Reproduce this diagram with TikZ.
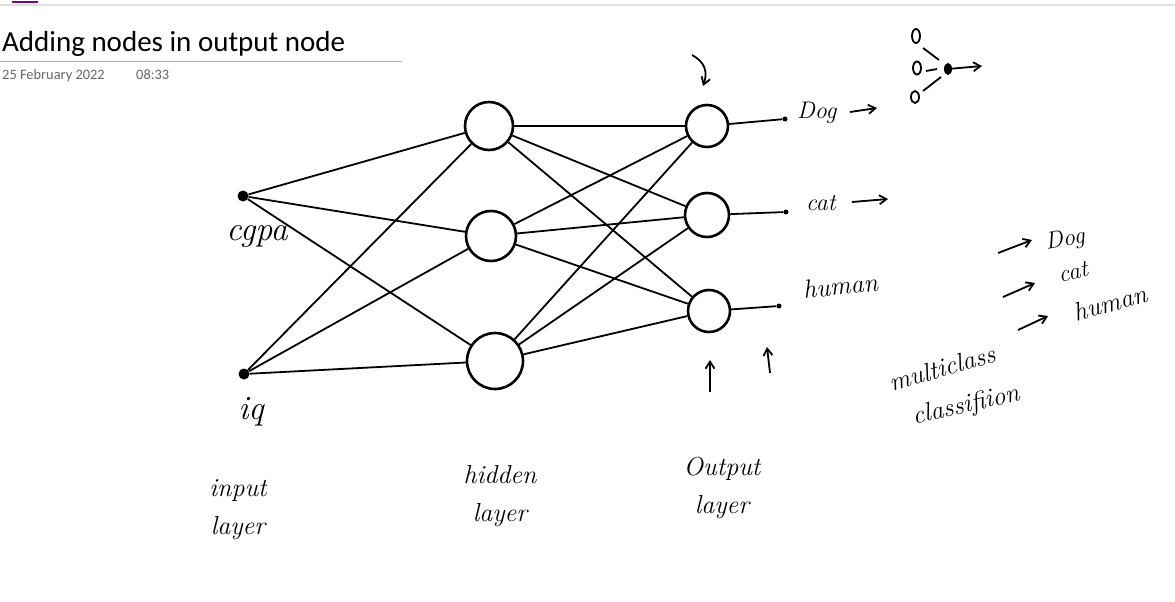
\documentclass[tikz,border=0pt]{standalone}
\usepackage{fontspec}
\setmainfont{Carlito}
\newfontfamily\hand{Latin Modern Roman}
\usetikzlibrary{arrows.meta,shapes.geometric}
\begin{document}
\begin{tikzpicture}[x=1pt,y=-1pt,
  neuron/.style={circle,draw,line width=2.6pt,inner sep=0pt},
  dotin/.style={circle,fill,inner sep=0pt,minimum size=11pt},
  dotout/.style={circle,fill,inner sep=0pt,minimum size=5pt},
  wire/.style={line width=1.8pt},
  arr/.style={line width=1.8pt,-{Straight Barb[length=7pt,width=9pt]}},
  hw/.style={inner sep=1pt,font=\hand\itshape\fontsize{24}{26}\selectfont},
  hwl/.style={inner sep=1pt,font=\hand\itshape\fontsize{26}{38}\selectfont},
  hwbig/.style={inner sep=1pt,font=\hand\itshape\fontsize{34}{36}\selectfont}]
\useasboundingbox (0,0) rectangle (1175,602);
\fill[white] (0,0) rectangle (1175,602);
% header
\draw[gray!25,line width=1.5pt] (0,5) -- (1175,5);
\draw[violet,line width=1.5pt] (12,2) -- (38,2);
\node[anchor=base west,inner sep=0pt,font=\fontsize{29}{31}\selectfont] (title) at (2,52) {Adding nodes in output node};
\draw[gray!60,line width=1pt] (0,62) -- (402,62);
\node[anchor=base west,inner sep=0pt,text=gray!80!black,font=\fontsize{14.4}{16}\selectfont] (date) at (2,79) {25 February 2022};
\node[anchor=base west,inner sep=0pt,text=gray!80!black,font=\fontsize{14.4}{16}\selectfont] (time) at (136,79) {08:33};
% nodes
\node[dotin] (i1) at (243,196) {};
\node[dotin] (i2) at (244,374) {};
\node[neuron,minimum size=48pt] (h1) at (489,126) {};
\node[neuron,minimum size=50pt] (h2) at (491,236) {};
\node[neuron,minimum size=56pt] (h3) at (495,361) {};
\node[neuron,minimum size=42pt] (o1) at (707,126) {};
\node[neuron,minimum size=44pt] (o2) at (707,215) {};
\node[neuron,minimum size=42pt] (o3) at (709,311) {};
\node[dotout] (e1) at (785,119) {};
\node[dotout] (e2) at (786,212) {};
\node[dotout] (e3) at (779,306) {};
% connections
\foreach \i in {i1,i2}{\foreach \h in {h1,h2,h3}{\draw[wire] (\i) -- (\h);}}
\foreach \h in {h1,h2,h3}{\foreach \o in {o1,o2,o3}{\draw[wire] (\h) -- (\o);}}
\draw[wire] (o1) -- (e1);
\draw[wire] (o2) -- (e2);
\draw[wire] (o3) -- (e3);
% labels
\node[hwbig] (lcgpa) at (257,236) {cgpa};
\node[hwbig] (liq) at (251,412) {iq};
\node[hwl,align=center] (lin) at (238,510) {input\\layer};
\node[hwl,align=center] (lhid) at (500,496) {hidden\\layer};
\node[hwl,align=center] (lout) at (722,488) {Output\\layer};
\node[hw,anchor=west] (ldog) at (796,113) {Dog};
\node[hw,anchor=west] (lcat) at (805,203) {cat};
\node[hwl,anchor=west,rotate=6] (lhum) at (802,290) {human};
\coordinate (a1s) at (850,112); \coordinate (a1e) at (877,108);
\draw[arr] (a1s) -- (a1e);
\coordinate (a2s) at (852,202); \coordinate (a2e) at (888,199);
\draw[arr] (a2s) -- (a2e);
% marker arrows
\coordinate (t1) at (692,55); \coordinate (t2) at (703,86);
\draw[arr] (t1) .. controls (705,62) and (708,72) .. (t2);
\coordinate (u1s) at (710,392); \coordinate (u1e) at (710,360);
\draw[arr] (u1s) -- (u1e);
\coordinate (u2s) at (770,373); \coordinate (u2e) at (767,347);
\draw[arr] (u2s) -- (u2e);
% top right small sketch
\node[ellipse,draw,line width=1.8pt,minimum width=8pt,minimum height=14pt,inner sep=0pt] (s1) at (916,36) {};
\node[ellipse,draw,line width=1.8pt,minimum width=8pt,minimum height=13pt,inner sep=0pt] (s2) at (917,68) {};
\node[ellipse,draw,line width=1.8pt,minimum width=8pt,minimum height=12pt,inner sep=0pt] (s3) at (915,97) {};
\node[ellipse,fill,minimum width=8pt,minimum height=12pt,inner sep=0pt] (s4) at (948,69) {};
\draw[wire] (923,48) -- (939,60);
\draw[wire] (926,71) -- (937,69);
\draw[wire] (923,91) -- (941,77);
\coordinate (s5) at (982,66);
\draw[arr] (s4) -- (s5);
% multiclass note
\coordinate (b1s) at (998,253); \coordinate (b1e) at (1032,240);
\draw[arr] (b1s) -- (b1e);
\coordinate (b2s) at (1003,297); \coordinate (b2e) at (1035,283);
\draw[arr] (b2s) -- (b2e);
\coordinate (b3s) at (1018,330); \coordinate (b3e) at (1048,316);
\draw[arr] (b3s) -- (b3e);
\node[hw,rotate=10] (rdog) at (1065,240) {Dog};
\node[hw,rotate=12] (rcat) at (1073,272) {cat};
\node[hwl,rotate=15] (rhum) at (1110,303) {human};
\node[hwl,rotate=16] (rmc) at (942,368) {multiclass};
\node[hwl,rotate=13] (rcl) at (966,406) {classifiion};
\end{tikzpicture}
\end{document}
